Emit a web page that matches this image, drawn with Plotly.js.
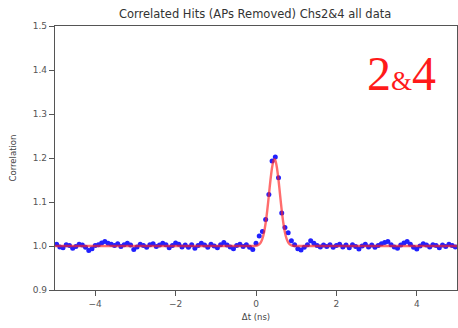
<!DOCTYPE html>
<html>
<head>
<meta charset="utf-8">
<script src="https://cdn.plot.ly/plotly-3.0.1.min.js"></script>
<style>
  html, body { margin: 0; padding: 0; background: #fff; }
  #chart { width: 458px; height: 328px; }
</style>
</head>
<body>
<div id="chart"></div>
<script>
// Histogram bin layout for the correlated-hit time differences (ns)
const binStart = -4.96;
const binWidth = 0.08;

// Measured correlation per bin, left to right
const correlation = [
  1.004, 0.998, 0.996, 1.003, 1.001, 0.995, 0.999, 1.004, 1.002, 0.997,
  0.990, 0.994, 1.001, 1.003, 1.007, 1.010, 1.006, 1.004, 1.001, 1.005,
  0.999, 1.003, 1.006, 1.002, 0.992, 0.998, 1.004, 1.001, 0.997, 1.003,
  1.005, 0.999, 1.002, 1.006, 1.003, 0.996, 1.001, 1.007, 1.004, 0.998,
  1.002, 0.997, 1.003, 0.995, 1.001, 1.006, 1.002, 0.997, 1.004, 1.000,
  0.996, 1.003, 1.008, 1.002, 0.998, 0.994, 1.001, 1.004, 0.999, 1.003,
  0.997,
  // coincidence peak
  0.992, 1.006, 1.023, 1.033, 1.060, 1.117, 1.193, 1.202, 1.155, 1.075,
  1.042, 1.030, 1.012, 1.003,
  // right-hand baseline
  0.994, 0.991, 0.997, 1.003, 1.012, 1.006, 1.001, 0.998, 1.002, 0.999,
  1.003, 0.997, 1.001, 1.004, 0.998, 1.002, 0.996, 1.003, 0.999, 0.993,
  1.000, 1.004, 0.998, 1.002, 0.997, 1.001, 1.005, 1.008, 1.010, 1.003,
  0.998, 0.995, 1.002, 1.007, 1.010, 1.004, 0.997, 0.993, 1.000, 1.005,
  1.002, 0.998, 1.003, 1.001, 0.996, 1.002, 0.999, 1.004, 1.001, 0.998
];

const deltaT = correlation.map((_, i) => +(binStart + i * binWidth).toFixed(2));

// Gaussian fit on a flat baseline, sampled for the overlay curve
const fitX = [-5.0, -0.10, 0.00, 0.04, 0.08, 0.12, 0.16, 0.20, 0.24, 0.28,
              0.32, 0.36, 0.40, 0.44, 0.46, 0.48, 0.52, 0.56, 0.60, 0.64,
              0.68, 0.72, 0.76, 0.80, 0.84, 0.88, 0.92, 1.00, 5.0];
const fitY = [1.000, 1.000, 1.0006, 1.0016, 1.0037, 1.0083, 1.0167, 1.0308, 1.0522, 1.081,
              1.115, 1.150, 1.1785, 1.1948, 1.197, 1.1948, 1.1785, 1.150, 1.115, 1.081,
              1.0522, 1.0308, 1.0167, 1.0083, 1.0037, 1.0016, 1.0006, 1.000, 1.000];

const yTicks = [0.9, 1.0, 1.1, 1.2, 1.3, 1.4, 1.5];
const xTicks = [-4, -2, 0, 2, 4];

const traces = [
  {
    x: deltaT, y: correlation,
    type: 'scatter', mode: 'markers',
    marker: { color: '#2020ff', size: 5 },
    hoverinfo: 'x+y'
  },
  {
    x: fitX, y: fitY,
    type: 'scatter', mode: 'lines',
    line: { color: 'rgba(255,30,30,0.65)', width: 2.4, shape: 'spline', smoothing: 0.6 },
    hoverinfo: 'skip'
  }
];

const axisCommon = {
  showline: true, mirror: true, linecolor: '#555', linewidth: 1.2,
  ticks: 'outside', ticklen: 5, tickcolor: '#555', tickwidth: 1,
  showgrid: false, zeroline: false,
  tickfont: { family: 'DejaVu Sans', size: 9, color: '#555' }
};

const layout = {
  width: 458, height: 328,
  margin: { l: 55, r: 1, t: 26, b: 38 },
  paper_bgcolor: '#fff', plot_bgcolor: '#fff',
  showlegend: false,
  title: {
    text: 'Correlated Hits (APs Removed) Chs2&4 all data',
    font: { family: 'DejaVu Sans', size: 11.5, color: '#333' },
    x: 0.557, xanchor: 'center', y: 0.958, yanchor: 'middle'
  },
  xaxis: Object.assign({}, axisCommon, {
    range: [-5, 5], tickvals: xTicks,
    title: { text: 'Δt (ns)', font: { family: 'DejaVu Sans', size: 8.5, color: '#444' }, standoff: 6 }
  }),
  yaxis: Object.assign({}, axisCommon, {
    range: [0.9, 1.5], tickvals: yTicks, tickformat: '.1f',
    title: { text: 'Correlation', font: { family: 'DejaVu Sans', size: 8.5, color: '#444' }, standoff: 14 }
  }),
  annotations: [{
    xref: 'paper', yref: 'paper', x: 0.952, y: 0.82,
    xanchor: 'right', yanchor: 'middle', showarrow: false,
    text: '2<span style="font-size:27px">&amp;</span>4',
    font: { family: 'Liberation Serif', size: 48, color: '#ff1a1a' }
  }]
};

Plotly.newPlot('chart', traces, layout, { displayModeBar: false, staticPlot: true });
</script>
</body>
</html>
